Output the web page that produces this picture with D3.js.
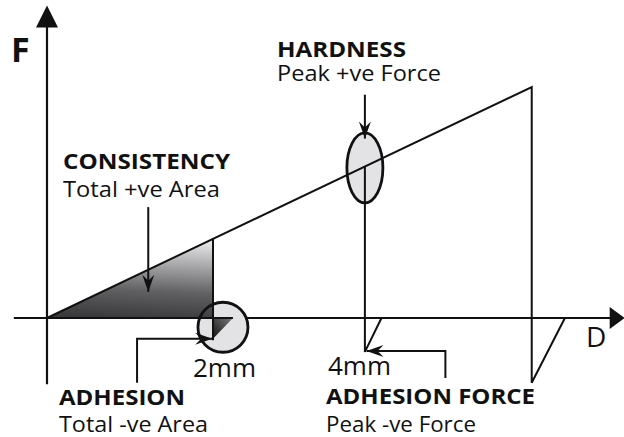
<!DOCTYPE html>
<html>
<head>
<meta charset="utf-8">
<script src="https://cdn.jsdelivr.net/npm/d3@7"></script>
<style>
  html, body { margin: 0; padding: 0; background: #fff; }
  svg { display: block; }
  text { font-family: "Open Sans", "Noto Sans", sans-serif; fill: #111; }
</style>
</head>
<body>
<svg width="624" height="437"></svg>
<script>
document.addEventListener('DOMContentLoaded', function() {

// distance (D) and force (F) values, in schematic units
const axisD = [-0.4, 6.96];
const axisF = [-0.86, 4.06];
const probeTrace = [[0, 0], [5.84, 3], [5.84, -0.84], [6.24, 0]];
const hardnessTrace = [[3.83, 1.967], [3.83, -0.44], [4.03, 0]];
const consistencyArea = [[0, 0], [2, 1.027], [2, 0]];
const consistencyEdge = [[2, 1.027], [2, -0.29]];
const adhesionArea = [[2, 0], [2.24, 0], [2, -0.27]];
const adhesionMark = { d: 2.12, f: -0.12 };
const hardnessMark = { d: 3.83, f: 1.95 };
const arrows = [
    [[1.22, 1.44], [1.22, 0.34]],                    // consistency
    [[3.83, 2.9], [3.83, 2.33]],                      // hardness
    [[1.085, -0.84], [1.085, -0.27], [1.99, -0.27]],  // adhesion
    [[4.8, -0.78], [4.8, -0.43], [3.85, -0.43]]       // adhesion force
];
const labelText = ["F", "D", "HARDNESS", "Peak +ve Force", "CONSISTENCY", "Total +ve Area",
    "2mm", "4mm", "ADHESION", "Total -ve Area", "ADHESION FORCE", "Peak -ve Force"];

// where each label sits on the page
const labelLayout = [
    { bold: true, size: 34, x: 11, y: 62 },
    { bold: false, size: 28, x: 586, y: 347 },
    { bold: true, size: 21, x: 277, y: 57, w: 129 },
    { bold: false, size: 21, x: 277, y: 81, w: 164 },
    { bold: true, size: 21, x: 63, y: 169, w: 167 },
    { bold: false, size: 21, x: 63, y: 197, w: 157 },
    { bold: false, size: 26, x: 193, y: 377 },
    { bold: false, size: 26, x: 328, y: 375 },
    { bold: true, size: 22, x: 59, y: 405, w: 126 },
    { bold: false, size: 21, x: 59, y: 432, w: 149 },
    { bold: true, size: 22, x: 326, y: 404, w: 209 },
    { bold: false, size: 21, x: 326, y: 432, w: 150 }
];

const svg = d3.select("svg");

const x = d3.scaleLinear().domain([0, 7]).range([47, 628]);
const y = d3.scaleLinear().domain([0, 3]).range([318, 87]);
const line = d3.line().x(p => x(p[0])).y(p => y(p[1]));

const defs = svg.append("defs");

const areaGrad = defs.append("linearGradient")
    .attr("id", "areaGrad")
    .attr("x1", 0.5).attr("y1", 1).attr("x2", 0.6).attr("y2", 0);
areaGrad.append("stop").attr("offset", 0).attr("stop-color", "#3a3a3c");
areaGrad.append("stop").attr("offset", 0.35).attr("stop-color", "#616164");
areaGrad.append("stop").attr("offset", 1).attr("stop-color", "#e8e8ea");

const darkGrad = defs.append("linearGradient")
    .attr("id", "darkGrad")
    .attr("x1", 0).attr("y1", 1).attr("x2", 1).attr("y2", 0);
darkGrad.append("stop").attr("offset", 0).attr("stop-color", "#111");
darkGrad.append("stop").attr("offset", 1).attr("stop-color", "#7a7a7c");

defs.append("marker")
    .attr("id", "head")
    .attr("markerUnits", "userSpaceOnUse")
    .attr("viewBox", "-18 -8 19 16")
    .attr("refX", 0).attr("refY", 0)
    .attr("markerWidth", 19).attr("markerHeight", 16)
    .attr("orient", "auto")
    .append("path")
    .attr("d", "M0,0L-17,-6L-11,0L-17,6Z")
    .attr("fill", "#111");

// axes
svg.append("line")
    .attr("x1", x(axisD[0])).attr("x2", x(axisD[1]) - 14)
    .attr("y1", y(0)).attr("y2", y(0))
    .attr("stroke", "#111").attr("stroke-width", 2.2);
svg.append("path")
    .attr("d", `M${x(axisD[1])},${y(0)}L${x(axisD[1]) - 15},${y(0) - 11}L${x(axisD[1]) - 15},${y(0) + 11}Z`)
    .attr("fill", "#111");
svg.append("line")
    .attr("x1", x(0)).attr("x2", x(0))
    .attr("y1", y(axisF[0])).attr("y2", y(axisF[1]) + 20)
    .attr("stroke", "#111").attr("stroke-width", 2.2);
svg.append("path")
    .attr("d", `M${x(0)},${y(axisF[1])}L${x(0) - 11},${y(axisF[1]) + 22}L${x(0) + 11},${y(axisF[1]) + 22}Z`)
    .attr("fill", "#111");

// adhesion circle (fill first, outline on top)
svg.append("circle")
    .attr("cx", x(adhesionMark.d)).attr("cy", y(adhesionMark.f)).attr("r", 25)
    .attr("fill", "#e3e3e6");

svg.append("path")
    .attr("d", line(consistencyArea) + "Z")
    .attr("fill", "url(#areaGrad)");
svg.append("path")
    .attr("d", line(adhesionArea) + "Z")
    .attr("fill", "url(#darkGrad)");
svg.append("line")
    .attr("x1", x(0)).attr("x2", x(2.24))
    .attr("y1", y(0)).attr("y2", y(0))
    .attr("stroke", "#111").attr("stroke-width", 2.2);

svg.append("circle")
    .attr("cx", x(adhesionMark.d)).attr("cy", y(adhesionMark.f)).attr("r", 25)
    .attr("fill", "none").attr("stroke", "#111").attr("stroke-width", 2.8);

// hardness ellipse
svg.append("ellipse")
    .attr("cx", x(hardnessMark.d)).attr("cy", y(hardnessMark.f))
    .attr("rx", 18).attr("ry", 35)
    .attr("fill", "#e3e3e6").attr("stroke", "#111").attr("stroke-width", 2.8);

// force traces
[probeTrace, hardnessTrace, consistencyEdge].forEach(t => {
    svg.append("path")
        .attr("d", line(t))
        .attr("fill", "none")
        .attr("stroke", "#111")
        .attr("stroke-width", 2);
});

// annotation arrows
svg.selectAll("path.arrow")
    .data(arrows)
    .enter()
    .append("path")
    .attr("class", "arrow")
    .attr("d", d => line(d))
    .attr("fill", "none")
    .attr("stroke", "#111")
    .attr("stroke-width", 2)
    .attr("marker-end", "url(#head)");

svg.selectAll("text.label")
    .data(labelText)
    .enter()
    .append("text")
    .attr("class", "label")
    .each(function(t, i) {
        const l = labelLayout[i];
        const el = d3.select(this)
            .attr("x", l.x)
            .attr("y", l.y)
            .attr("font-size", l.size + "px")
            .attr("font-weight", l.bold ? "bold" : "normal")
            .text(t);
        if (l.w) el.attr("textLength", l.w).attr("lengthAdjust", "spacingAndGlyphs");
    });

});
</script>
</body>
</html>
